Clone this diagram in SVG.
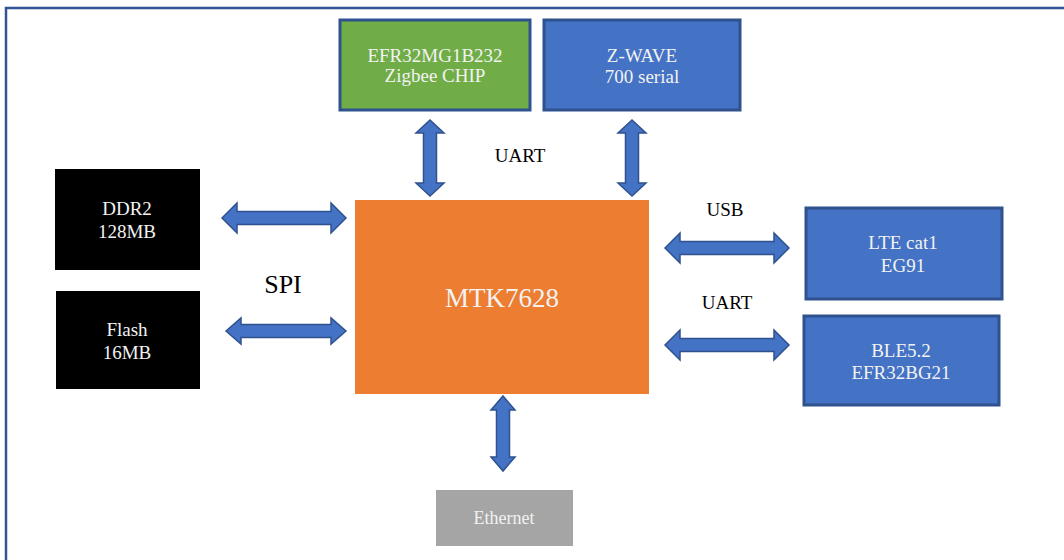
<svg xmlns="http://www.w3.org/2000/svg" width="1064" height="560" viewBox="0 0 1064 560">
<style>
.lbl{font-family:"Liberation Serif","Times New Roman",serif;fill:#000;text-anchor:middle}
.wt{font-family:"Liberation Serif","Times New Roman",serif;fill:#f2f2f2;text-anchor:middle;font-size:19px}
.blue{fill:#4472c4;stroke:#2f528f;stroke-width:3}
.arrow{fill:#4472c4;stroke:#2f528f;stroke-width:1.5;stroke-linejoin:miter}
</style>
<rect width="1064" height="560" fill="#fff"/>
<path d="M6,560 V8 H1064" fill="none" stroke="#2f5597" stroke-width="2.5"/>

<g id="connectors">
<polygon class="arrow" points="430,120 444,133 436.5,133 436.5,183 444,183 430,196 416,183 423.5,183 423.5,133 416,133"/>
<polygon class="arrow" points="632,120 646,133 638.5,133 638.5,183 646,183 632,196 618,183 625.5,183 625.5,133 618,133"/>
<polygon class="arrow" points="222,218 237,203 237,211.5 331,211.5 331,203 346,218 331,233 331,224.5 237,224.5 237,233"/>
<polygon class="arrow" points="226,331 241,318 241,324.5 331,324.5 331,318 346,331 331,344 331,337.5 241,337.5 241,344"/>
<polygon class="arrow" points="665,248 680,233 680,241.5 774,241.5 774,233 789,248 774,263 774,254.5 680,254.5 680,263"/>
<polygon class="arrow" points="665,345 680,330 680,338.5 774,338.5 774,330 789,345 774,360 774,351.5 680,351.5 680,360"/>
<polygon class="arrow" points="503,396 515,410 509.5,410 509.5,457 515,457 503,471 491,457 496.5,457 496.5,410 491,410"/>
<text class="lbl" x="520" y="162" font-size="19">UART</text>
<text class="lbl" x="283" y="293" font-size="26">SPI</text>
<text class="lbl" x="725" y="216" font-size="19">USB</text>
<text class="lbl" x="727" y="309" font-size="19">UART</text>
</g>

<g id="zigbee">
<rect x="340" y="20" width="190" height="90" fill="#70ad47" stroke="#2f528f" stroke-width="3"/>
<text class="wt" x="435" y="62">EFR32MG1B232</text>
<text class="wt" x="435" y="82">Zigbee CHIP</text>
</g>

<g id="zwave">
<rect class="blue" x="544" y="20" width="196" height="90"/>
<text class="wt" x="642" y="62">Z-WAVE</text>
<text class="wt" x="642" y="83">700 serial</text>
</g>

<g id="mtk">
<rect x="355" y="200" width="294" height="194" fill="#ed7d31"/>
<text class="wt" x="502" y="307" font-size="27" style="font-size:27px">MTK7628</text>
</g>

<g id="ddr2">
<rect x="55" y="169" width="145" height="101" fill="#000"/>
<text class="wt" x="127" y="215">DDR2</text>
<text class="wt" x="127" y="238">128MB</text>
</g>

<g id="flash">
<rect x="56" y="291" width="144" height="98" fill="#000"/>
<text class="wt" x="127" y="336">Flash</text>
<text class="wt" x="127" y="359">16MB</text>
</g>

<g id="lte">
<rect class="blue" x="806" y="208" width="196" height="91"/>
<text class="wt" x="903" y="249">LTE cat1</text>
<text class="wt" x="903" y="272">EG91</text>
</g>

<g id="ble">
<rect class="blue" x="804" y="316" width="195" height="89"/>
<text class="wt" x="901" y="357">BLE5.2</text>
<text class="wt" x="901" y="379">EFR32BG21</text>
</g>

<g id="ethernet">
<rect x="436" y="490" width="137" height="56" fill="#a5a5a5"/>
<text class="wt" x="504" y="524" style="font-size:18px">Ethernet</text>
</g>
</svg>
